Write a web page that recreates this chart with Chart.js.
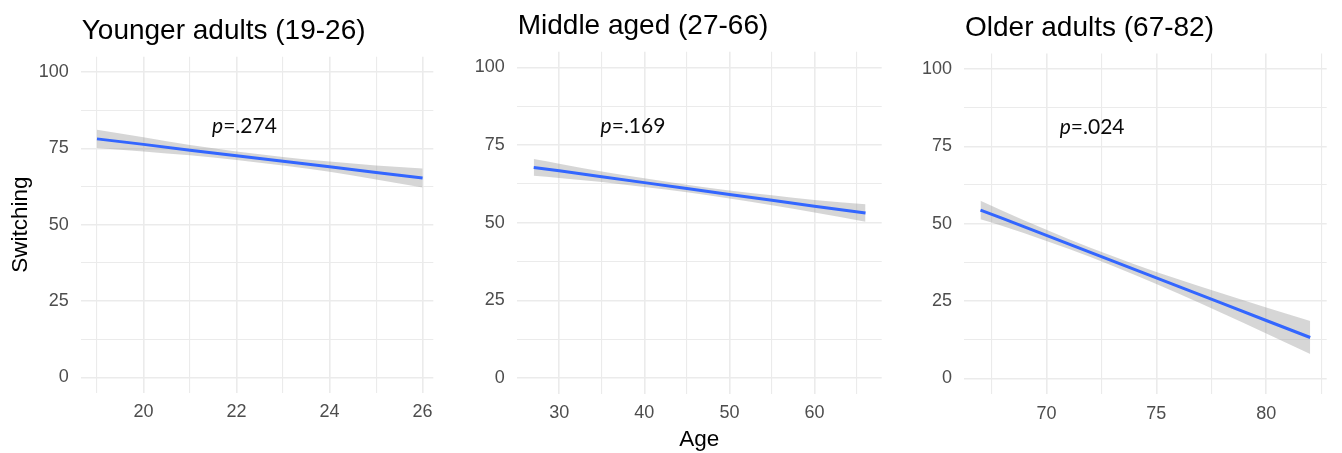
<!DOCTYPE html>
<html>
<head>
<meta charset="utf-8">
<script src="https://cdn.jsdelivr.net/npm/chart.js@4/dist/chart.umd.min.js"></script>
<style>
  html, body { margin: 0; padding: 0; background: #ffffff; }
  #wrap { position: relative; width: 1342px; height: 453px; overflow: hidden; background: #ffffff; }
  .panel { position: absolute; top: 0; height: 453px; }
  canvas { display: block; }
</style>
</head>
<body>
<div id="wrap">
  <div class="panel" style="left:0px;width:445px"><canvas id="young" width="445" height="453"></canvas></div>
  <div class="panel" style="left:445px;width:445px"><canvas id="middle" width="445" height="453"></canvas></div>
  <div class="panel" style="left:890px;width:452px"><canvas id="older" width="452" height="453"></canvas></div>
</div>
<script>
// Linear fits of switching score on age, with 95% confidence bands
const youngAges  = [19, 20, 21, 22, 23, 24, 25, 26];
const youngFit   = [78.1, 76.3, 74.4, 72.6, 70.8, 69.0, 67.1, 65.3];
const youngUpper = [81.1, 78.6, 76.1, 74.0, 72.2, 70.7, 69.4, 68.4];
const youngLower = [75.1, 74.0, 72.7, 71.2, 69.4, 67.3, 64.8, 62.2];

const middleAges  = [27, 30, 35, 40, 45, 50, 55, 60, 66];
const middleFit   = [67.8, 66.7, 64.8, 62.9, 61.0, 59.1, 57.2, 55.3, 53.1];
const middleUpper = [70.5, 69.0, 66.5, 64.3, 62.2, 60.4, 58.8, 57.3, 55.9];
const middleLower = [65.1, 64.4, 63.1, 61.5, 59.8, 57.8, 55.6, 53.3, 50.3];

const olderAges  = [67, 68, 70, 72, 74, 76, 78, 80, 82];
const olderFit   = [54.4, 51.7, 46.2, 40.7, 35.2, 29.7, 24.2, 18.7, 13.2];
const olderUpper = [57.4, 54.2, 48.0, 42.2, 36.9, 32.0, 27.4, 22.9, 18.5];
const olderLower = [51.4, 49.2, 44.4, 39.2, 33.5, 27.4, 21.0, 14.5, 7.9];

// Axis breaks: labelled (major) values and all grid positions
const yTickLabels = [0, 25, 50, 75, 100];
const yGridValues = [0, 12.5, 25, 37.5, 50, 62.5, 75, 87.5, 100];
const youngTickLabels  = [20, 22, 24, 26];
const youngGridValues  = [19, 20, 21, 22, 23, 24, 25, 26];
const middleTickLabels = [30, 40, 50, 60];
const middleGridValues = [30, 35, 40, 45, 50, 55, 60, 65];
const olderTickLabels  = [70, 75, 80];
const olderGridValues  = [67.5, 70, 72.5, 75, 77.5, 80, 82.5];

const panelTitles = ['Younger adults (19-26)', 'Middle aged (27-66)', 'Older adults (67-82)'];
const pValues = ['.274', '.169', '.024'];
const yAxisTitle = 'Switching';
const xAxisTitle = 'Age';

const SANS = '"Liberation Sans", Arial, Helvetica, sans-serif';
const TICK_COLOR = '#4d4d4d';
const GRID_COLOR = '#ebebeb';

function pairs(xs, ys) {
  return xs.map((x, i) => ({ x: x, y: ys[i] }));
}

// Draws the panel title, the p-value note and the axis titles
const panelText = {
  id: 'panelText',
  afterDraw(chart, args, opts) {
    const ctx = chart.ctx;
    const area = chart.chartArea;
    const xs = chart.scales.x, ys = chart.scales.y;
    ctx.save();

    // title, left-aligned with the plotting area
    ctx.fillStyle = '#000000';
    ctx.font = '28px ' + SANS;
    ctx.textAlign = 'left';
    ctx.textBaseline = 'alphabetic';
    ctx.fillText(opts.title, area.left + 1, area.top - 17.5);

    // p-value note: italic "p", upright value
    const pFont = '21px Lato, "Open Sans", sans-serif';
    const pItalic = 'italic ' + pFont;
    ctx.font = pItalic;
    const wP = ctx.measureText('p').width;
    ctx.font = pFont;
    const rest = '=' + opts.pValue;
    const wR = ctx.measureText(rest).width;
    const cx = xs.getPixelForValue(opts.pAt[0]);
    const by = ys.getPixelForValue(opts.pAt[1]);
    const x0 = cx - (wP + wR) / 2;
    ctx.fillStyle = '#0a0a0a';
    ctx.font = pItalic;
    ctx.fillText('p', x0, by);
    ctx.font = pFont;
    ctx.fillText(rest, x0 + wP, by);

    ctx.fillStyle = '#000000';
    ctx.font = '22.5px ' + SANS;
    if (opts.yTitle) {
      ctx.save();
      ctx.translate(27, (area.top + area.bottom) / 2);
      ctx.rotate(-Math.PI / 2);
      ctx.textAlign = 'center';
      ctx.textBaseline = 'alphabetic';
      ctx.fillText(opts.yTitle, 0, 0);
      ctx.restore();
    }
    if (opts.xTitle) {
      ctx.textAlign = 'center';
      ctx.textBaseline = 'alphabetic';
      ctx.fillText(opts.xTitle, (area.left + area.right) / 2, 446);
    }
    ctx.restore();
  }
};

function makePanel(id, cfg) {
  const tickFont = { family: SANS, size: 18 };
  return new Chart(document.getElementById(id), {
    type: 'line',
    data: {
      datasets: [
        {
          data: pairs(cfg.ages, cfg.upper),
          borderWidth: 0,
          pointRadius: 0,
          fill: false,
          cubicInterpolationMode: 'monotone',
          order: 1
        },
        {
          data: pairs(cfg.ages, cfg.lower),
          borderWidth: 0,
          pointRadius: 0,
          fill: 0,
          backgroundColor: 'rgba(153,153,153,0.4)',
          cubicInterpolationMode: 'monotone',
          order: 2
        },
        {
          data: pairs(cfg.ages, cfg.fit),
          borderColor: '#3366FF',
          borderWidth: 3,
          pointRadius: 0,
          fill: false,
          tension: 0,
          order: 0
        }
      ]
    },
    options: {
      responsive: false,
      animation: false,
      events: [],
      layout: { padding: cfg.padding },
      plugins: {
        legend: { display: false },
        tooltip: { enabled: false },
        title: { display: false },
        panelText: {
          title: cfg.title,
          pValue: cfg.pValue,
          pAt: cfg.pAt,
          yTitle: cfg.yTitle,
          xTitle: cfg.xTitle
        }
      },
      scales: {
        x: {
          type: 'linear',
          min: cfg.xMin,
          max: cfg.xMax,
          afterBuildTicks: s => { s.ticks = cfg.xGrid.map(v => ({ value: v })); },
          afterFit: s => { s.height = 40; },
          border: { display: false },
          grid: {
            color: GRID_COLOR,
            drawTicks: false,
            lineWidth: c => (c.tick && cfg.xLabels.includes(c.tick.value)) ? 1.6 : 1.1
          },
          ticks: {
            autoSkip: false,
            maxRotation: 0,
            padding: 9,
            color: TICK_COLOR,
            font: tickFont,
            callback: v => cfg.xLabels.includes(v) ? String(v) : ''
          }
        },
        y: {
          type: 'linear',
          min: -5,
          max: 105,
          afterBuildTicks: s => { s.ticks = yGridValues.map(v => ({ value: v })); },
          afterFit: s => { s.width = 50; },
          border: { display: false },
          grid: {
            color: GRID_COLOR,
            drawTicks: false,
            lineWidth: c => (c.tick && yTickLabels.includes(c.tick.value)) ? 1.6 : 1.1
          },
          ticks: {
            autoSkip: false,
            padding: 12,
            color: TICK_COLOR,
            font: tickFont,
            callback: v => yTickLabels.includes(v) ? String(v) : ''
          }
        }
      }
    },
    plugins: [panelText]
  });
}

makePanel('young', {
  ages: youngAges, fit: youngFit, upper: youngUpper, lower: youngLower,
  xMin: 18.65, xMax: 26.23, xLabels: youngTickLabels, xGrid: youngGridValues,
  title: panelTitles[0], pValue: pValues[0], pAt: [22.17, 79.9],
  yTitle: yAxisTitle, xTitle: null,
  padding: { left: 30.7, right: 11.7, top: 56.7, bottom: 20.3 }
});

makePanel('middle', {
  ages: middleAges, fit: middleFit, upper: middleUpper, lower: middleLower,
  xMin: 25.0, xMax: 67.9, xLabels: middleTickLabels, xGrid: middleGridValues,
  title: panelTitles[1], pValue: pValues[1], pAt: [38.67, 79.0],
  yTitle: null, xTitle: xAxisTitle,
  padding: { left: 21.7, right: 8.3, top: 51.8, bottom: 19.4 }
});

makePanel('older', {
  ages: olderAges, fit: olderFit, upper: olderUpper, lower: olderLower,
  xMin: 66.25, xMax: 82.75, xLabels: olderTickLabels, xGrid: olderGridValues,
  title: panelTitles[2], pValue: pValues[2], pAt: [72.08, 79.0],
  yTitle: null, xTitle: null,
  padding: { left: 24, right: 15.3, top: 53.5, bottom: 19.2 }
});
</script>
</body>
</html>
